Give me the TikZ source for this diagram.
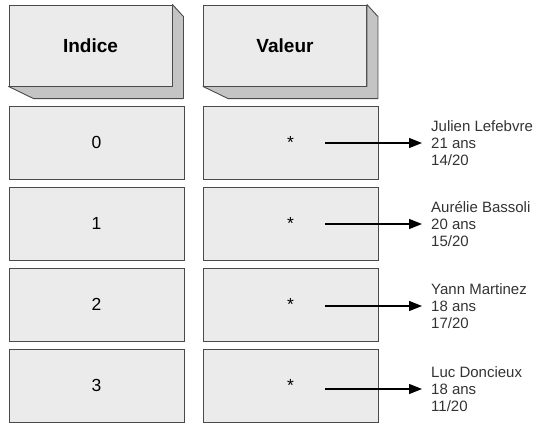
\documentclass[tikz,border=0pt]{standalone}
\usepackage{fontspec}
\setmainfont{Liberation Sans}
\usepackage{tikz}
\usetikzlibrary{arrows.meta}
\definecolor{boxfill}{HTML}{EBEBEB}
\definecolor{boxside}{HTML}{C4C4C4}
\definecolor{boxline}{HTML}{4A4A4A}

\begin{document}
\begin{tikzpicture}[x=1pt,y=-1pt]
\tikzset{cell/.style={draw=boxline,fill=boxfill,line width=0.9pt,minimum width=175pt,minimum height=73pt,inner sep=0pt,font=\fontsize{17.5}{19}\selectfont},
head/.style={draw=boxline,fill=boxfill,line width=0.9pt,minimum width=163pt,minimum height=81pt,inner sep=0pt,font=\fontsize{19}{22}\selectfont\bfseries},
side/.style={draw=boxline,fill=boxside,line width=0.9pt,line join=round},
info/.style={anchor=west,align=left,inner xsep=9pt,inner ysep=0pt,text=black!80,font=\fontsize{15}{17}\selectfont}}
\useasboundingbox (0,0) rectangle (538,424);

% en-tetes
\node (hi) at (90.5,45.5) [head] {Indice};
\node (hv) at (285,45.5) [head] {Valeur};
\draw [side] (hi.north east) -- ++(11,12) -- ++(0,82) -- ++(-150,0) -- (hi.south west) -- (hi.south east) -- cycle;
\draw [side] (hv.north east) -- ++(11,12) -- ++(0,82) -- ++(-150,0) -- (hv.south west) -- (hv.south east) -- cycle;

% indices
\node (i0) at (96.5,142.5) [cell] {0};
\node (i1) at (96.5,223.5) [cell] {1};
\node (i2) at (96.5,304.5) [cell] {2};
\node (i3) at (96.5,385.5) [cell] {3};

% valeurs
\node (v0) at (290.5,142.5) [cell] {\vphantom{0}*};
\node (v1) at (290.5,223.5) [cell] {\vphantom{0}*};
\node (v2) at (290.5,304.5) [cell] {\vphantom{0}*};
\node (v3) at (290.5,385.5) [cell] {\vphantom{0}*};

% etudiants
\node (e0) at (422,143) [info] {Julien Lefebvre\\21 ans\\14/20};
\node (e1) at (422,224) [info] {Aurélie Bassoli\\20 ans\\15/20};
\node (e2) at (422,306) [info] {Yann Martinez\\18 ans\\17/20};
\node (e3) at (422,389) [info] {Luc Doncieux\\18 ans\\11/20};

\coordinate (p0) at (325,143);
\coordinate (p1) at (325,224);
\coordinate (p2) at (325,306);
\coordinate (p3) at (325,389);

\path
(p0) edge [-{Triangle[length=13pt,width=10pt]}, black, line width=1.3pt] (e0.west)
(p1) edge [-{Triangle[length=13pt,width=10pt]}, black, line width=1.3pt] (e1.west)
(p2) edge [-{Triangle[length=13pt,width=10pt]}, black, line width=1.3pt] (e2.west)
(p3) edge [-{Triangle[length=13pt,width=10pt]}, black, line width=1.3pt] (e3.west);
\end{tikzpicture}
\end{document}
